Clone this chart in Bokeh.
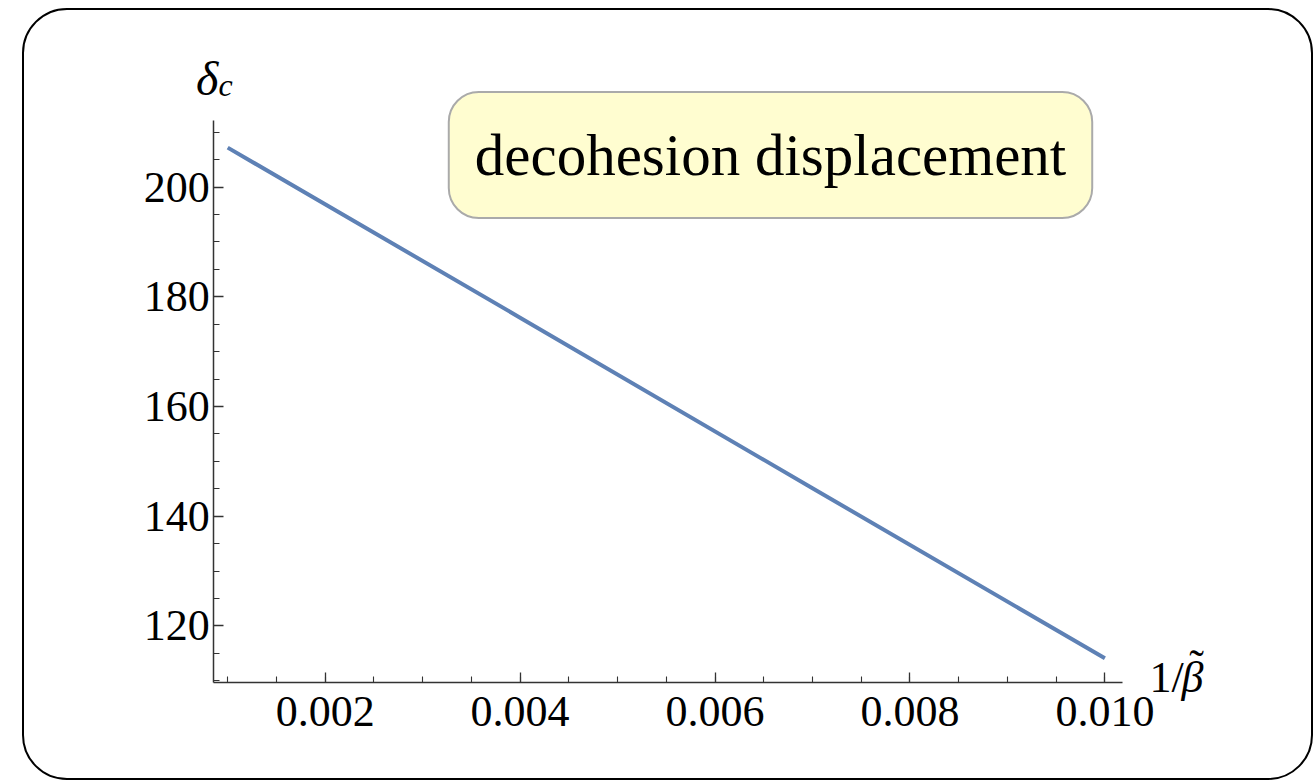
from bokeh.plotting import figure
from bokeh.models import Range1d, SingleIntervalTicker, PrintfTickFormatter, Label
from bokeh.embed import file_html
from bokeh.resources import INLINE

# data
inv_beta = [0.001, 0.004, 0.007, 0.010]
delta_c = [207.2, 176.2, 145.1, 114.1]

# extent of the drawn axes
x_axis_bounds = (0.000857, 0.010178)
y_axis_bounds = (109.6, 212.2)
# view range (whole canvas is the plotting frame)
x_view = (-0.0010849, 0.012161)
y_view = (91.45, 232.2)

W, H = 1291, 772
p = figure(width=W, height=H, output_backend="svg", toolbar_location=None,
           x_range=Range1d(*x_view), y_range=Range1d(*y_view),
           min_border_left=0, min_border_right=0,
           min_border_top=0, min_border_bottom=0,
           styles={"border": "2.5px solid black", "border-radius": "45px",
                   "margin-left": "22px", "margin-top": "8px",
                   "overflow": "hidden"})
p.outline_line_color = None
p.grid.visible = False
p.background_fill_color = None
p.border_fill_color = None

p.line(inv_beta, delta_c, line_color="#5E81B5", line_width=4)

SERIF = "Liberation Serif"
for ax in (p.xaxis[0], p.yaxis[0]):
    ax.axis_line_color = "#333333"
    ax.axis_line_width = 1.5
    ax.major_tick_line_color = "#333333"
    ax.minor_tick_line_color = "#333333"
    ax.major_tick_line_width = 1.3
    ax.minor_tick_line_width = 1.1
    ax.major_tick_in = 10
    ax.major_tick_out = 0
    ax.minor_tick_in = 6
    ax.minor_tick_out = 0
    ax.major_label_text_font = SERIF
    ax.major_label_text_font_size = "44px"
    ax.major_label_text_color = "black"

xa, ya = p.xaxis[0], p.yaxis[0]
xa.fixed_location = y_axis_bounds[0]
ya.fixed_location = x_axis_bounds[0]
xa.bounds = x_axis_bounds
ya.bounds = y_axis_bounds
xa.major_label_standoff = 14
ya.major_label_standoff = 4
xa.ticker = SingleIntervalTicker(interval=0.002, num_minor_ticks=4)
xa.formatter = PrintfTickFormatter(format="%.3f")
ya.ticker = SingleIntervalTicker(interval=20, num_minor_ticks=4)

# label box
p.add_layout(Label(x=744, y=142.5, x_units="canvas", y_units="canvas",
                   text="decohesion displacement", text_font=SERIF,
                   text_font_size="59px", text_align="center",
                   text_baseline="middle", text_color="black",
                   background_fill_color="#FFFDD0", background_fill_alpha=1,
                   border_line_color="#AAAAAA", border_line_width=2,
                   border_radius=30, padding=(26, 30)))

# axis labels
p.add_layout(Label(x=169.5, y=66, x_units="canvas", y_units="canvas",
                   text="δ", text_font=SERIF, text_font_style="italic",
                   text_font_size="48px", text_baseline="alphabetic",
                   text_color="black"))
p.add_layout(Label(x=192, y=72, x_units="canvas", y_units="canvas",
                   text="c", text_font=SERIF, text_font_style="italic",
                   text_font_size="32px", text_baseline="alphabetic",
                   text_color="black"))
p.add_layout(Label(x=1123, y=665, x_units="canvas", y_units="canvas",
                   text="1/", text_font=SERIF,
                   text_font_size="44px", text_baseline="alphabetic",
                   text_color="black"))
p.add_layout(Label(x=1155, y=665, x_units="canvas", y_units="canvas",
                   text="β", text_font=SERIF, text_font_style="italic",
                   text_font_size="44px", text_baseline="alphabetic",
                   text_color="black"))
p.add_layout(Label(x=1170, y=653, x_units="canvas", y_units="canvas",
                   text="˜", text_font=SERIF, text_align="center",
                   text_font_size="44px", text_baseline="alphabetic",
                   text_color="black"))

open("out.html", "w").write(file_html(p, INLINE))
